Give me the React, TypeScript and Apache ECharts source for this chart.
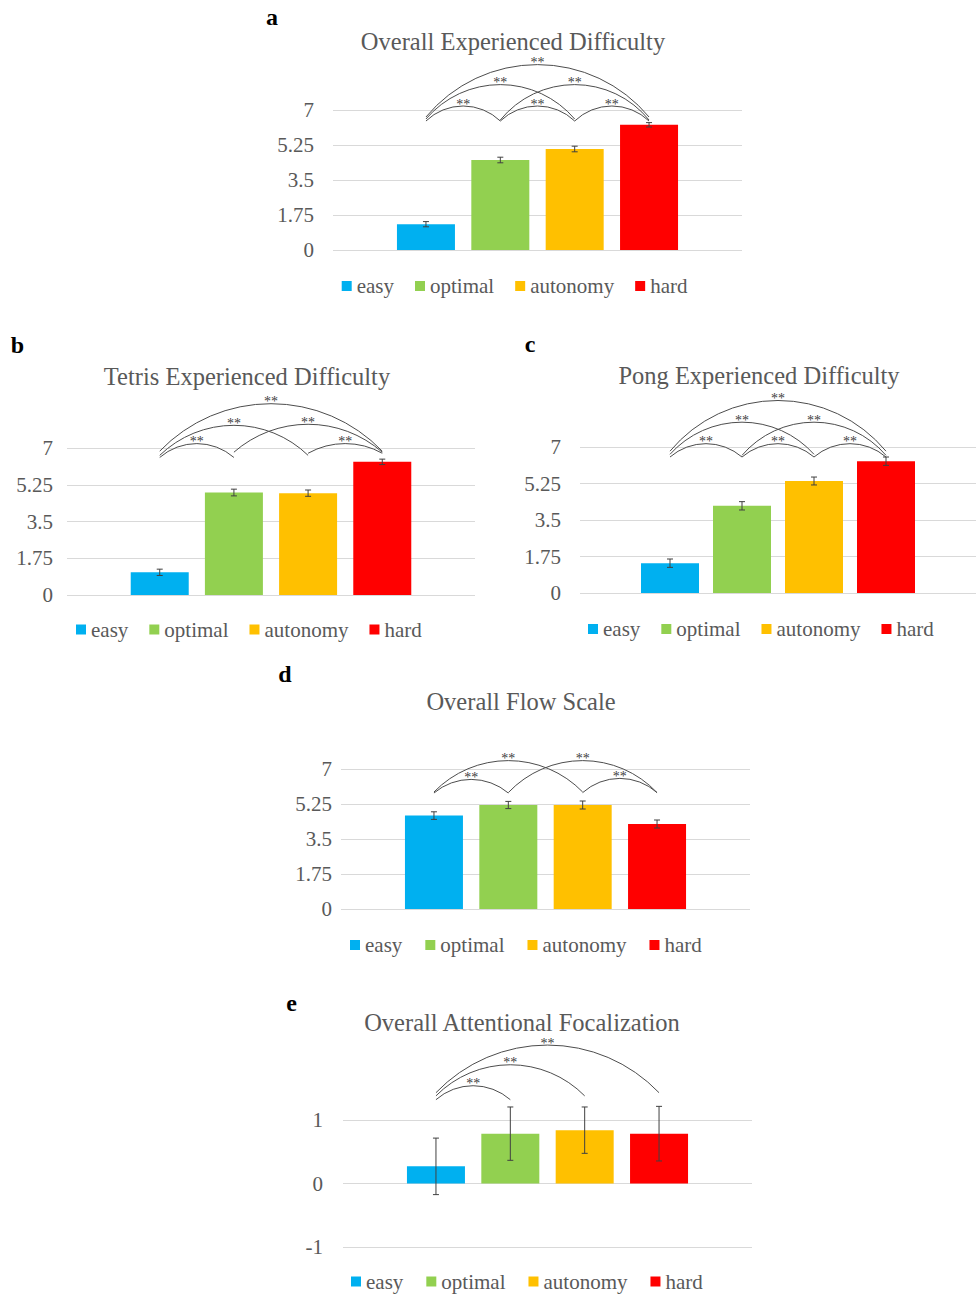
import React, { useEffect, useRef } from "react";
import * as echarts from "echarts";

// ---------- data ----------
const categories = ["easy", "optimal", "autonomy", "hard"];
const colors = ["#00B0F0", "#92D050", "#FFC000", "#FF0000"];

const panelLetters = ["a", "b", "c", "d", "e"];
const panelTitles = [
  "Overall Experienced Difficulty",
  "Tetris Experienced Difficulty",
  "Pong Experienced Difficulty",
  "Overall Flow Scale",
  "Overall Attentional Focalization",
];

const ticksSeven = [0, 1.75, 3.5, 5.25, 7];
const ticksFocal = [-1, 0, 1];

const meansA = [1.29, 4.5, 5.05, 6.26];
const errA = [0.13, 0.14, 0.14, 0.11];
const meansB = [1.08, 4.88, 4.85, 6.34];
const errB = [0.15, 0.16, 0.15, 0.13];
const meansC = [1.43, 4.18, 5.37, 6.32];
const errC = [0.2, 0.2, 0.19, 0.2];
const meansD = [4.67, 5.2, 5.2, 4.25];
const errD = [0.19, 0.18, 0.2, 0.2];
const meansE = [0.27, 0.785, 0.84, 0.785];
const errE = [0.445, 0.42, 0.365, 0.43];

// significance arcs: [fromCategory, toCategory, baseValue, peakValue]
const arcsA = [
  [0, 1, 6.45, 7.2], [1, 2, 6.45, 7.2], [2, 3, 6.45, 7.2],
  [0, 2, 6.55, 8.27], [1, 3, 6.5, 8.27], [0, 3, 6.65, 9.27],
];
const arcsB = [
  [0, 1, 6.55, 7.21], [0, 2, 6.65, 8.08], [0, 3, 6.85, 9.11],
  [1, 3, 6.8, 8.13], [2, 3, 6.75, 7.21],
];
const arcsC = [
  [0, 1, 6.52, 7.16], [1, 2, 6.52, 7.16], [2, 3, 6.52, 7.16],
  [0, 2, 6.65, 8.19], [1, 3, 6.6, 8.19], [0, 3, 6.8, 9.23],
];
const arcsD = [
  [0, 1, 5.8, 6.48], [0, 2, 5.85, 7.42], [1, 3, 5.82, 7.42], [2, 3, 5.82, 6.53],
];
const arcsE = [
  [0, 1, 1.32, 1.54], [0, 2, 1.38, 1.87], [0, 3, 1.43, 2.18],
];

const panelData = [
  { means: meansA, errors: errA, arcs: arcsA, ticks: ticksSeven },
  { means: meansB, errors: errB, arcs: arcsB, ticks: ticksSeven },
  { means: meansC, errors: errC, arcs: arcsC, ticks: ticksSeven },
  { means: meansD, errors: errD, arcs: arcsD, ticks: ticksSeven },
  { means: meansE, errors: errE, arcs: arcsE, ticks: ticksFocal },
];

// ---------- layout ----------
const layouts = [
  { grid: { left: 333, top: 110, width: 409, height: 140 }, labelMargin: 19, title: [513, 41], letter: [272, 16.6], legend: { left: 341.7, cy: 286, gap: 21 } },
  { grid: { left: 67, top: 448, width: 408, height: 147 }, labelMargin: 14, title: [247, 376], letter: [17.5, 344.7], legend: { left: 76, cy: 629.5, gap: 21 } },
  { grid: { left: 580, top: 447, width: 409, height: 146 }, labelMargin: 19, title: [759, 375], letter: [530, 344], legend: { left: 588, cy: 629, gap: 21 } },
  { grid: { left: 341, top: 769, width: 409, height: 140 }, labelMargin: 9, title: [521, 701], letter: [285, 673.7], legend: { left: 350, cy: 945, gap: 23 } },
  { grid: { left: 343, top: 1120, width: 409, height: 127 }, labelMargin: 20, title: [522, 1022.5], letter: [291.7, 1002.7], legend: { left: 351, cy: 1281.5, gap: 23 } },
];

const FONT = "'Liberation Serif', 'Times New Roman', serif";
const TEXT_GRAY = "#595959";
const ARC_GRAY = "#4d4d4d";
const X_MIN = -1.25;
const X_MAX = 4.25;

function buildOption() {
  const grid: any[] = [];
  const xAxis: any[] = [];
  const yAxis: any[] = [];
  const legend: any[] = [];
  const series: any[] = [];
  const graphic: any[] = [];

  panelData.forEach((pd, p) => {
    const lay = layouts[p];
    grid.push({ ...lay.grid, containLabel: false });
    xAxis.push({ type: "value", gridIndex: p, min: X_MIN, max: X_MAX, show: false, splitLine: { show: false } });
    const t = pd.ticks;
    yAxis.push({
      type: "value",
      gridIndex: p,
      min: t[0],
      max: t[t.length - 1],
      interval: t[1] - t[0],
      axisLine: { show: false },
      axisTick: { show: false },
      splitLine: { show: true, lineStyle: { color: "#D9D9D9", width: 1 } },
      axisLabel: { margin: lay.labelMargin, color: TEXT_GRAY, fontSize: 21, fontFamily: FONT },
    });
    legend.push({
      data: categories,
      left: lay.legend.left,
      top: lay.legend.cy - 10.5,
      orient: "horizontal",
      padding: 0,
      itemGap: lay.legend.gap,
      itemWidth: 10,
      itemHeight: 10,
      icon: "rect",
      selectedMode: false,
      textStyle: { color: TEXT_GRAY, fontSize: 21, fontFamily: FONT },
    });

    categories.forEach((c, i) => {
      series.push({
        type: "bar",
        name: c,
        xAxisIndex: p,
        yAxisIndex: p,
        data: [[i, pd.means[i]]],
        barWidth: 58,
        barGap: "-100%",
        itemStyle: { color: colors[i] },
        z: 2,
      });
    });

    series.push({
      type: "custom",
      name: "err" + p,
      xAxisIndex: p,
      yAxisIndex: p,
      z: 5,
      clip: false,
      itemStyle: { color: "#404040" },
      data: pd.means.map((m, i) => [i, m, pd.errors[i]]),
      renderItem: (params: any, api: any) => {
        const x = api.value(0);
        const m = api.value(1);
        const e = api.value(2);
        const top = api.coord([x, m + e]);
        const bot = api.coord([x, m - e]);
        const st = { stroke: "#404040", lineWidth: 1 };
        const hw = 3;
        return {
          type: "group",
          children: [
            { type: "line", shape: { x1: top[0], y1: top[1], x2: bot[0], y2: bot[1] }, style: st },
            { type: "line", shape: { x1: top[0] - hw, y1: top[1], x2: top[0] + hw, y2: top[1] }, style: st },
            { type: "line", shape: { x1: bot[0] - hw, y1: bot[1], x2: bot[0] + hw, y2: bot[1] }, style: st },
          ],
        };
      },
    });

    series.push({
      type: "custom",
      name: "arcs" + p,
      xAxisIndex: p,
      yAxisIndex: p,
      z: 6,
      clip: false,
      itemStyle: { color: ARC_GRAY },
      data: pd.arcs,
      renderItem: (params: any, api: any) => {
        const from = api.value(0);
        const to = api.value(1);
        const base = api.value(2);
        const peak = api.value(3);
        const p1 = api.coord([from, base]);
        const p2 = api.coord([to, base]);
        const pk = api.coord([(from + to) / 2, peak]);
        const w = p2[0] - p1[0];
        const h = p1[1] - pk[1];
        const r = (w * w / 4 + h * h) / (2 * h);
        const cx = (p1[0] + p2[0]) / 2;
        const cy = pk[1] + r;
        const a = Math.asin(Math.min(1, w / 2 / r));
        return {
          type: "group",
          children: [
            {
              type: "arc",
              shape: { cx, cy, r, startAngle: -Math.PI / 2 - a, endAngle: -Math.PI / 2 + a, clockwise: true },
              style: { stroke: ARC_GRAY, fill: "none", lineWidth: 1 },
            },
            {
              type: "text",
              x: cx,
              y: pk[1] - 2,
              style: { text: "**", fontSize: 14, fontFamily: FONT, fill: "#404040", align: "center", verticalAlign: "middle" },
            },
          ],
        };
      },
    });

    graphic.push({
      type: "text",
      x: lay.title[0],
      y: lay.title[1],
      style: { text: panelTitles[p], fontSize: 24.5, fontFamily: FONT, fill: TEXT_GRAY, align: "center", verticalAlign: "middle" },
    });
    graphic.push({
      type: "text",
      x: lay.letter[0],
      y: lay.letter[1],
      style: { text: panelLetters[p], fontSize: 24, fontWeight: "bold", fontFamily: FONT, fill: "#000000", align: "center", verticalAlign: "middle" },
    });
  });

  return {
    animation: false,
    backgroundColor: "#ffffff",
    grid,
    xAxis,
    yAxis,
    legend,
    series,
    graphic,
  };
}

export default function App() {
  const ref = useRef<HTMLDivElement>(null);
  useEffect(() => {
    if (!ref.current) return;
    const chart = echarts.init(ref.current, undefined, { renderer: "svg" });
    chart.setOption(buildOption() as any);
    return () => chart.dispose();
  }, []);
  return (
    <div
      ref={ref}
      style={{ position: "absolute", left: 0, top: 0, width: 976, height: 1294, overflow: "hidden" }}
    />
  );
}
